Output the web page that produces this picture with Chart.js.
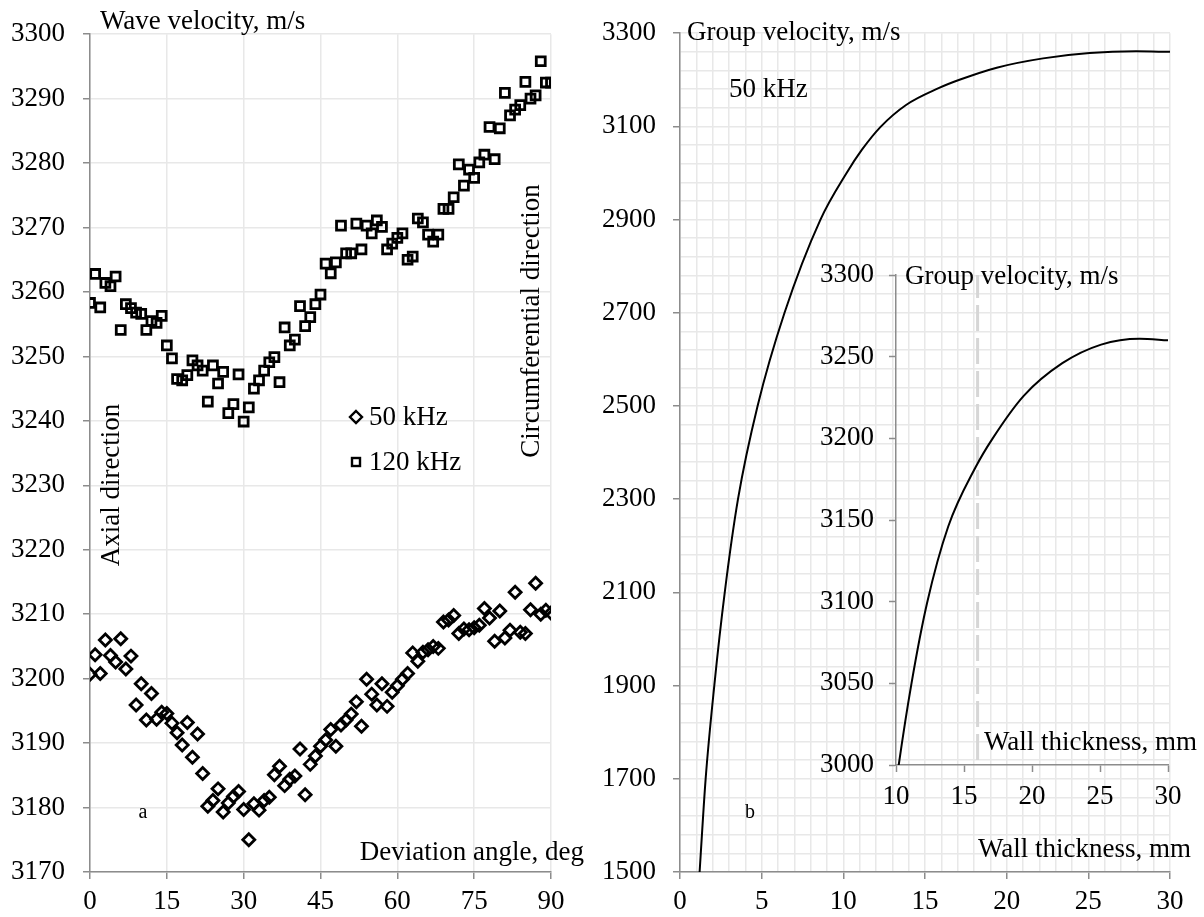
<!DOCTYPE html>
<html>
<head>
<meta charset="utf-8">
<script src="https://cdn.jsdelivr.net/npm/chart.js@4.4.1/dist/chart.umd.min.js"></script>
<style>
  html, body { margin: 0; padding: 0; background: #fff; }
  #wrap { position: relative; width: 1204px; height: 917px; overflow: hidden; }
  canvas { position: absolute; }
  #left { left: 0; top: 0; }
  #right { left: 600px; top: 0; }
  #inset { left: 820px; top: 240px; }
</style>
</head>
<body>
<div id="wrap">
  <canvas id="left" width="600" height="917"></canvas>
  <canvas id="right" width="604" height="917"></canvas>
  <canvas id="inset" width="384" height="600"></canvas>
</div>
<script>
// ---- datos (a): velocidad vs angulo de desviacion ----
const angles = [0,1,2,3,4,5,6,7,8,9,10,11,12,13,14,15,16,17,18,19,20,21,22,23,24,25,26,27,28,29,30,
  31,32,33,34,35,36,37,38,39,40,41,42,43,44,45,46,47,48,49,50,51,52,53,54,55,56,57,58,59,60,
  61,62,63,64,65,66,67,68,69,70,71,72,73,74,75,76,77,78,79,80,81,82,83,84,85,86,87,88,89,90];

const vel50 = [3200.7,3203.7,3200.8,3206.0,3203.6,3202.6,3206.2,3201.5,3203.5,3195.9,
  3199.2,3193.6,3197.7,3193.7,3194.8,3194.6,3193.1,3191.6,3189.7,3193.2,
  3187.8,3191.4,3185.3,3180.2,3181.1,3182.9,3179.3,3180.7,3181.7,3182.5,
  3179.7,3175.0,3180.6,3179.6,3181.1,3181.6,3185.1,3186.4,3183.4,3184.4,
  3184.9,3189.1,3182.0,3186.7,3188.0,3189.5,3190.5,3192.1,3189.5,3192.8,
  3193.6,3194.5,3196.4,3192.6,3199.9,3197.6,3195.9,3199.2,3195.7,3197.9,
  3198.9,3199.9,3200.8,3204.0,3202.7,3204.1,3204.5,3205.0,3204.7,3208.8,
  3209.1,3209.8,3207.0,3207.7,3207.6,3207.9,3208.3,3210.9,3209.4,3205.8,
  3210.5,3206.3,3207.5,3213.4,3207.2,3207.0,3210.7,3214.8,3210.0,3210.6,3210.2];

const vel120 = [3258.3,3262.8,3257.6,3261.4,3260.9,3262.4,3254.1,3258.1,3257.5,3256.8,
  3256.6,3254.1,3255.5,3255.2,3256.3,3251.7,3249.7,3246.5,3246.3,3247.1,
  3249.4,3248.6,3247.8,3243.0,3248.6,3245.8,3247.6,3241.2,3242.6,3247.2,
  3239.9,3242.1,3245.0,3246.3,3247.8,3249.1,3249.9,3246.0,3254.5,3251.7,
  3252.6,3257.8,3254.7,3256.1,3258.1,3259.6,3264.4,3262.9,3264.6,3270.3,
  3266.0,3266.0,3270.6,3266.6,3270.3,3269.1,3271.1,3270.1,3266.6,3267.5,
  3268.4,3269.1,3265.0,3265.5,3271.4,3270.8,3268.9,3267.8,3268.9,3272.9,
  3272.9,3274.7,3279.8,3276.5,3279.0,3277.7,3280.1,3281.3,3285.6,3280.6,
  3285.4,3290.9,3287.4,3288.3,3289.0,3292.6,3290.0,3290.5,3295.8,3292.5,3292.5];

// ---- datos (b): velocidad de grupo 50 kHz vs espesor de pared ----
const thickness = [1.2, 1.57, 2.1, 2.74, 3.55, 4.75, 6.4, 8.6, 10.2, 11.14, 12.28, 13.84, 15.83, 17.11, 19.39, 22.23, 25.08, 27.92, 30];
const groupVel  = [1500, 1700, 1900, 2100, 2300, 2500, 2700, 2900, 3000, 3050, 3099, 3146, 3182, 3200, 3226, 3246, 3257.4, 3261, 3260];
const markerThickness = 16; // linea discontinua del recuadro

const FONT = '"Liberation Serif", "Times New Roman", serif';
const AXIS = '#8c8c8c';
const GRID = '#e8e8e8';
const TICK_SIZE = 27;
const TXT_SIZE = 27;

function texto(ctx, s, x, y, size, align, rot) {
  ctx.save();
  ctx.fillStyle = '#000';
  ctx.font = size + 'px ' + FONT;
  ctx.textAlign = align || 'left';
  ctx.textBaseline = 'middle';
  ctx.translate(x, y);
  if (rot) ctx.rotate(rot);
  ctx.fillText(s, 0, 0);
  ctx.restore();
}

function ejeBase(extra) {
  return Object.assign({
    type: 'linear',
    border: { color: AXIS, width: 1.5 },
  }, extra);
}

const comunes = {
  responsive: false,
  animation: false,
  events: [],
  plugins: { legend: { display: false }, tooltip: { enabled: false } }
};

const sinComa = v => String(v);

// ----------- GRAFICO (a) -----------
new Chart(document.getElementById('left'), {
  type: 'scatter',
  data: {
    datasets: [
      {
        label: '50 kHz',
        data: angles.map((a, i) => ({ x: a, y: vel50[i] })),
        pointStyle: 'rectRot', pointRadius: 6, borderColor: '#000', borderWidth: 2.8,
        backgroundColor: 'rgba(0,0,0,0)'
      },
      {
        label: '120 kHz',
        data: angles.map((a, i) => ({ x: a, y: vel120[i] })),
        pointStyle: 'rect', pointRadius: 6.3, borderColor: '#000', borderWidth: 2.8,
        backgroundColor: 'rgba(0,0,0,0)'
      }
    ]
  },
  options: Object.assign({}, comunes, {
    layout: { padding: { top: 20, right: 49, left: 0, bottom: 0 } },
    scales: {
      x: ejeBase({
        min: 0, max: 90,
        ticks: { stepSize: 15, autoSkip: false, maxRotation: 0, color: '#000', padding: 7,
          font: { family: FONT, size: TICK_SIZE }, callback: sinComa },
        grid: { color: GRID, lineWidth: 1.5, tickLength: 7, tickColor: AXIS, tickWidth: 1.5 },
        afterFit: s => { s.height = 45; }
      }),
      y: ejeBase({
        min: 3170, max: 3300,
        ticks: { stepSize: 10, autoSkip: false, color: '#000', padding: 18,
          font: { family: FONT, size: TICK_SIZE }, callback: sinComa },
        grid: { color: GRID, lineWidth: 1.5, tickLength: 7, tickColor: AXIS, tickWidth: 1.5 },
        afterFit: s => { s.width = 90; }
      })
    }
  }),
  plugins: [{
    id: 'textosA',
    afterDraw(chart) {
      const ctx = chart.ctx;
      texto(ctx, 'Wave velocity, m/s', 100, 22, TXT_SIZE);
      texto(ctx, 'Axial direction', 112, 485, TXT_SIZE, 'center', -Math.PI / 2);
      texto(ctx, 'Circumferential direction', 532, 321, TXT_SIZE, 'center', -Math.PI / 2);
      texto(ctx, 'Deviation angle, deg', 584, 853, TXT_SIZE, 'right');
      texto(ctx, 'a', 143, 813, 20, 'center');
      // leyenda
      ctx.save();
      ctx.strokeStyle = '#000';
      ctx.lineWidth = 2.4;
      ctx.beginPath();
      ctx.moveTo(356, 411); ctx.lineTo(362, 417); ctx.lineTo(356, 423); ctx.lineTo(350, 417); ctx.closePath();
      ctx.stroke();
      ctx.strokeRect(352, 458, 8, 8);
      ctx.restore();
      texto(ctx, '50 kHz', 369, 418, TXT_SIZE);
      texto(ctx, '120 kHz', 369, 463, TXT_SIZE);
    }
  }]
});

// ----------- GRAFICO (b) -----------
const curva = thickness.map((t, i) => ({ x: t, y: groupVel[i] }));

new Chart(document.getElementById('right'), {
  type: 'scatter',
  data: {
    datasets: [{
      label: '50 kHz',
      data: curva,
      showLine: true, pointRadius: 0, borderColor: '#000', borderWidth: 2,
      cubicInterpolationMode: 'monotone'
    }]
  },
  options: Object.assign({}, comunes, {
    layout: { padding: { top: 29, right: 34, left: 0, bottom: 0 } },
    scales: {
      x: ejeBase({
        min: 0, max: 30,
        ticks: {
          stepSize: 1, autoSkip: false, maxRotation: 0, color: '#000', padding: 7,
          font: { family: FONT, size: TICK_SIZE },
          callback: v => (v % 5 === 0 ? String(v) : '')
        },
        grid: {
          color: GRID, lineWidth: 1.5, tickLength: 7, tickWidth: 1.5,
          tickColor: c => (c.tick && c.tick.value % 5 === 0 ? AXIS : 'rgba(0,0,0,0)')
        },
        afterFit: s => { s.height = 45; }
      }),
      y: ejeBase({
        min: 1500, max: 3300,
        ticks: {
          stepSize: 40, autoSkip: false, color: '#000', padding: 17,
          font: { family: FONT, size: TICK_SIZE },
          callback: v => (v % 200 === 100 ? String(v) : '')
        },
        grid: {
          color: GRID, lineWidth: 1.5, tickLength: 7, tickWidth: 1.5,
          tickColor: c => (c.tick && c.tick.value % 200 === 100 ? AXIS : 'rgba(0,0,0,0)')
        },
        afterFit: s => { s.width = 80; }
      })
    }
  }),
  plugins: [{
    id: 'textosB',
    afterDraw(chart) {
      const ctx = chart.ctx;
      texto(ctx, 'Group velocity, m/s', 87, 33, TXT_SIZE);
      texto(ctx, '50 kHz', 129, 90, TXT_SIZE);
      texto(ctx, 'b', 150, 813, 20, 'center');
      texto(ctx, 'Wall thickness, mm', 591, 850, TXT_SIZE, 'right');
    }
  }]
});

// ----------- RECUADRO (zoom) -----------
new Chart(document.getElementById('inset'), {
  type: 'scatter',
  data: {
    datasets: [
      {
        label: '50 kHz',
        data: curva,
        showLine: true, pointRadius: 0, borderColor: '#000', borderWidth: 2,
        cubicInterpolationMode: 'monotone'
      },
      {
        label: 'espesor',
        data: [{ x: markerThickness, y: 3003 }, { x: markerThickness, y: 3300 }],
        showLine: true, pointRadius: 0, borderColor: '#d6d6d6', borderWidth: 3,
        borderDash: [26, 7]
      }
    ]
  },
  options: Object.assign({}, comunes, {
    layout: { padding: { top: 35, right: 36, left: 0, bottom: 0 } },
    scales: {
      x: ejeBase({
        min: 10, max: 30,
        ticks: { stepSize: 5, autoSkip: false, maxRotation: 0, color: '#000', padding: 9,
          font: { family: FONT, size: TICK_SIZE }, callback: sinComa },
        grid: { drawOnChartArea: false, tickLength: 7, tickColor: AXIS, tickWidth: 1.5 },
        afterFit: s => { s.height = 75; }
      }),
      y: ejeBase({
        min: 3000, max: 3300,
        ticks: { stepSize: 50, autoSkip: false, color: '#000', padding: 15,
          font: { family: FONT, size: TICK_SIZE }, callback: sinComa },
        grid: { drawOnChartArea: false, tickLength: 7, tickColor: AXIS, tickWidth: 1.5 },
        afterFit: s => { s.width = 76; }
      })
    }
  }),
  plugins: [{
    id: 'textosInset',
    afterDraw(chart) {
      const ctx = chart.ctx;
      texto(ctx, 'Group velocity, m/s', 85, 37, TXT_SIZE);
      texto(ctx, 'Wall thickness, mm', 377, 503, TXT_SIZE, 'right');
    }
  }]
});
</script>
</body>
</html>
